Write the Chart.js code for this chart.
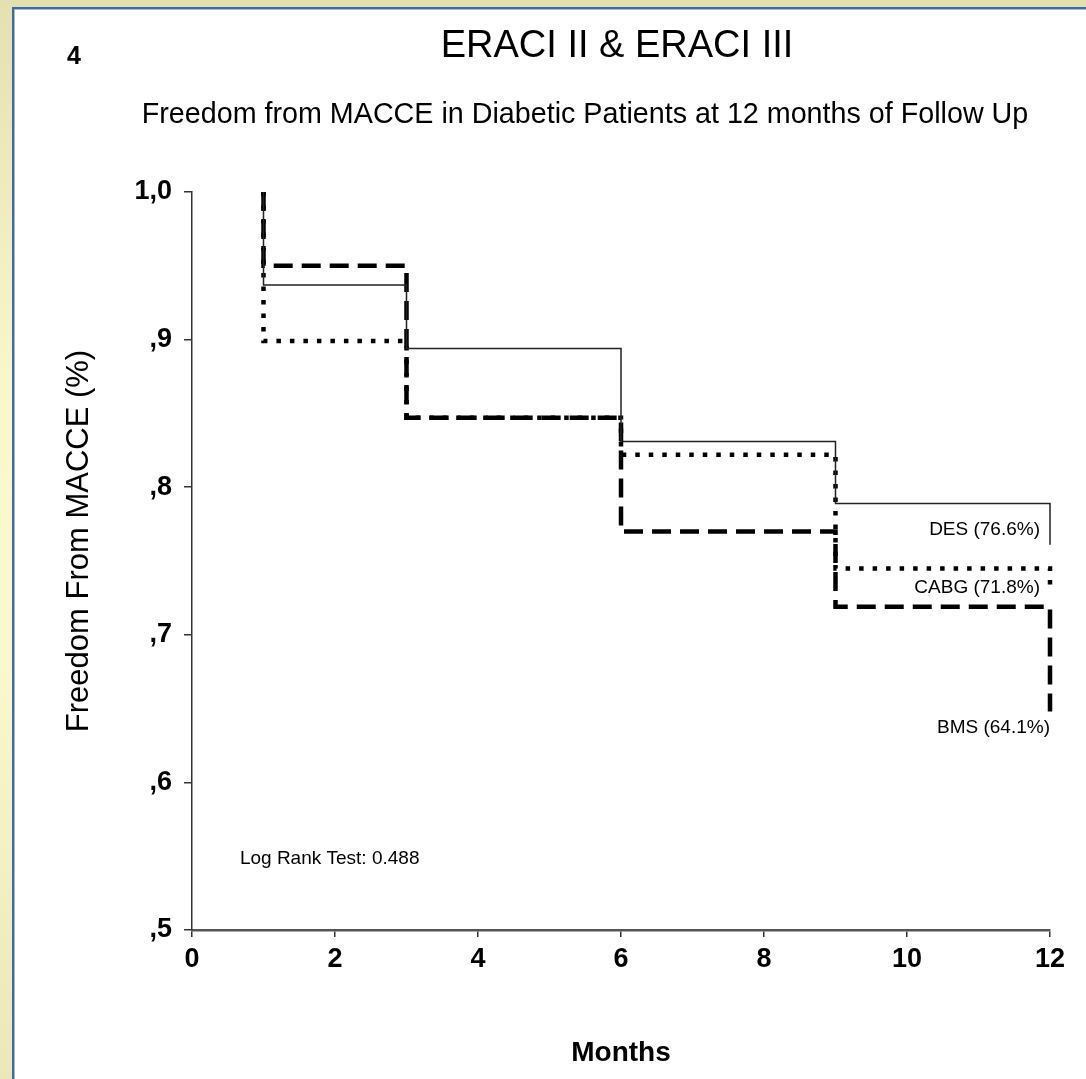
<!DOCTYPE html>
<html>
<head>
<meta charset="utf-8">
<script src="https://cdn.jsdelivr.net/npm/chart.js@4/dist/chart.umd.min.js"></script>
<style>
    body { margin: 0; width: 1086px; height: 1079px; overflow: hidden; background: #e2dfb1; position: relative; }
    #left-band { position: absolute; left: 0; top: 0; width: 12px; height: 1079px;
        background: linear-gradient(to bottom, #e4e0b2, #faf6cc 35%, #fbf8cf 60%, #ebe7b9 100%); }
    #panel { position: absolute; left: 12px; top: 7px; width: 1074px; height: 1072px; background: #fff;
        border-left: 2px solid #44699c; border-top: 2px solid #44699c; box-shadow: inset 1px 1px 0 #9db9dc; }
    #chart { position: absolute; left: 0; top: 0; }
</style>
</head>
<body>
<div id="left-band"></div>
<div id="panel"></div>
<canvas id="chart" width="1086" height="1079"></canvas>
<script>
// Kaplan-Meier steps, month of each step
const months = [1, 3, 6, 9, 12, 12];
const desValues = [1.0, 0.937, 0.894, 0.831, 0.789, 0.761];
const cabgValues = [1.0, 0.899, 0.847, 0.822, 0.745, 0.732];
const bmsValues = [1.0, 0.950, 0.847, 0.770, 0.719, 0.648];
const yTickLabels = [",5", ",6", ",7", ",8", ",9", "1,0"];

const FONT = '"Liberation Sans", Arial, sans-serif';

function toPoints(values) {
    return months.map((m, i) => ({ x: m, y: values[i] }));
}

// Texts drawn on top of the chart (titles, curve labels, test result)
const textPlugin = {
    id: "texts",
    afterDraw(chart) {
        const ctx = chart.ctx;
        const x = chart.scales.x;
        const y = chart.scales.y;
        ctx.save();
        ctx.fillStyle = "#000";
        ctx.textBaseline = "middle";

        ctx.font = "bold 25px " + FONT;
        ctx.textAlign = "left";
        ctx.fillText("4", 67, 57);

        ctx.textAlign = "center";
        ctx.font = "38px " + FONT;
        ctx.fillText("ERACI II & ERACI III", 617, 47);
        ctx.font = "28.7px " + FONT;
        ctx.fillText("Freedom from MACCE in Diabetic Patients at 12 months of Follow Up", 585, 115);

        // y axis title
        ctx.save();
        ctx.translate(79, 541);
        ctx.rotate(-Math.PI / 2);
        ctx.font = "31px " + FONT;
        ctx.fillText("Freedom From MACCE (%)", 0, 0);
        ctx.restore();

        ctx.font = "19px " + FONT;
        ctx.textAlign = "right";
        ctx.fillText("DES (76.6%)", x.getPixelForValue(12) - 10, y.getPixelForValue(0.771));
        ctx.fillText("CABG (71.8%)", x.getPixelForValue(12) - 10, y.getPixelForValue(0.732));
        ctx.fillText("BMS (64.1%)", x.getPixelForValue(12), y.getPixelForValue(0.637));
        ctx.textAlign = "left";
        ctx.fillText("Log Rank Test: 0.488", x.getPixelForValue(0.67), y.getPixelForValue(0.548));
        ctx.restore();
    }
};

const ctx = document.getElementById("chart").getContext("2d");
new Chart(ctx, {
    type: "line",
    data: {
        datasets: [
            {
                label: "DES",
                data: toPoints(desValues),
                borderColor: "#222",
                borderWidth: 1.5,
                stepped: "after",
                pointRadius: 0,
                clip: false
            },
            {
                label: "CABG",
                data: toPoints(cabgValues),
                borderColor: "#000",
                borderWidth: 4.5,
                borderDash: [4.5, 9],
                stepped: "after",
                pointRadius: 0,
                clip: false
            },
            {
                label: "BMS",
                data: toPoints(bmsValues),
                borderColor: "#000",
                borderWidth: 4.5,
                borderDash: [19, 9],
                stepped: "after",
                pointRadius: 0,
                clip: false
            }
        ]
    },
    options: {
        responsive: false,
        animation: false,
        layout: { padding: { top: 192, right: 36, left: 0, bottom: 0 } },
        plugins: {
            legend: { display: false },
            tooltip: { enabled: false }
        },
        scales: {
            x: {
                type: "linear",
                min: 0,
                max: 12,
                ticks: { stepSize: 2, color: "#000", padding: 6, font: { family: FONT, size: 27, weight: "bold" } },
                grid: { drawOnChartArea: false, tickLength: 7, color: "#333", lineWidth: 1.5 },
                border: { color: "#555", width: 2.5 },
                title: {
                    display: true, text: "Months", color: "#000",
                    font: { family: FONT, size: 28, weight: "bold" }, padding: { bottom: 9 }
                },
                afterFit(scale) { scale.height = 149; }
            },
            y: {
                min: 0.5,
                max: 1.0,
                ticks: {
                    stepSize: 0.1, color: "#000", padding: 12,
                    font: { family: FONT, size: 27, weight: "bold" },
                    callback: (value, index) => yTickLabels[index]
                },
                grid: { drawOnChartArea: false, tickLength: 8, color: "#333", lineWidth: 1.5 },
                border: { color: "#333", width: 1.5 },
                afterFit(scale) { scale.width = 192; }
            }
        }
    },
    plugins: [textPlugin]
});
</script>
</body>
</html>
